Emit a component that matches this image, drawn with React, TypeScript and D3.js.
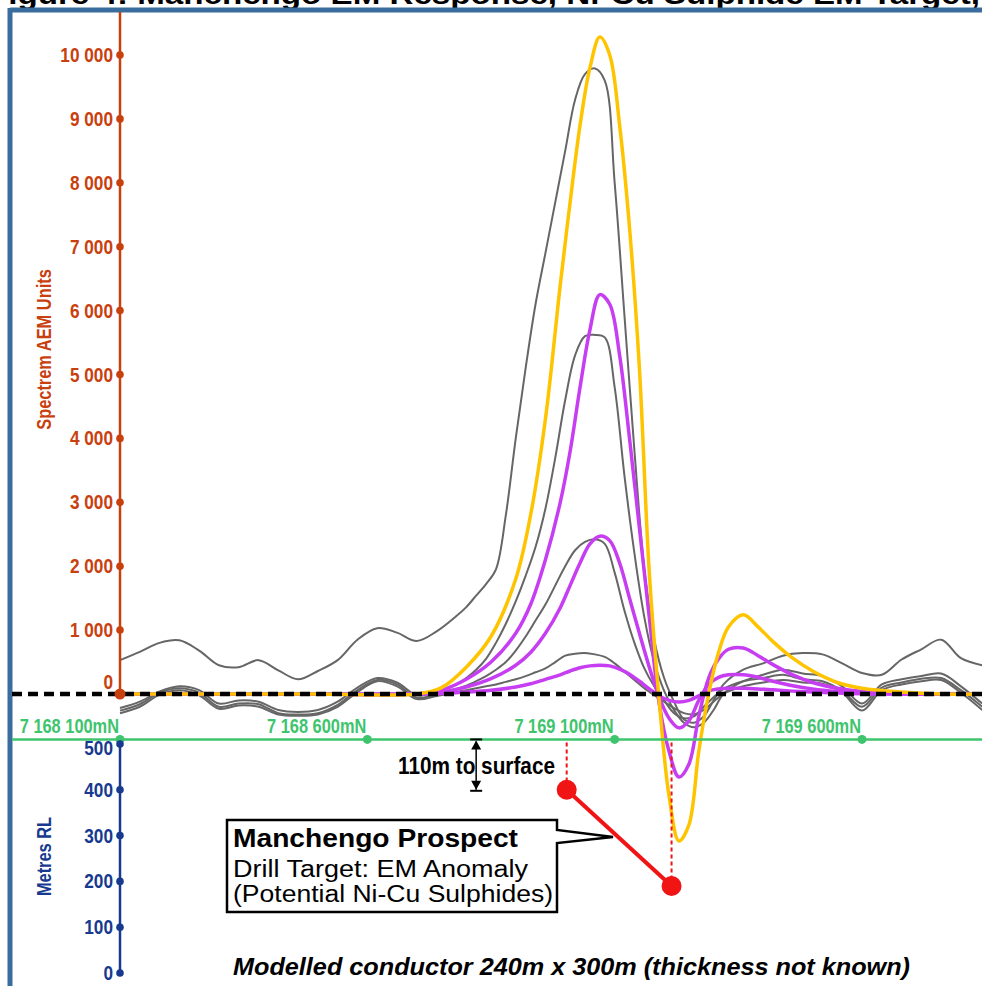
import React from 'react';
import * as d3 from 'd3';

const W = 982;
const H = 986;

// axis ticks
const aemTicks = [0, 1000, 2000, 3000, 4000, 5000, 6000, 7000, 8000, 9000, 10000];
const rlTicks = [0, 100, 200, 300, 400, 500];
const northingTicks = [7168100, 7168600, 7169100, 7169600];
const surfaceRL = 510;

// modelled response stations (northing, m)
const modelN = [7168100, 7168300, 7168500, 7168700, 7168750, 7168800, 7168850, 7168900, 7168930, 7168960,
  7168990, 7169010, 7169030, 7169050, 7169070, 7169090, 7169110, 7169130, 7169150, 7169170,
  7169190, 7169210, 7169230, 7169250, 7169270, 7169290, 7169310, 7169330, 7169360, 7169390,
  7169420, 7169460, 7169500, 7169550, 7169600, 7169680, 7169760, 7169843];
const modelYellow = [0, 0, 0, 0, 100, 420, 900, 1800, 2800, 4300, 6400, 7700, 8900, 9800, 10280, 10000, 8900, 7300, 5100, 1900,
  -100, -1600, -2300, -2050, -900, 0, 650, 1050, 1240, 1050, 820, 560, 360, 180, 90, 30, 0, 0];
const modelPurple1 = [0, 0, 0, 0, 60, 230, 500, 950, 1400, 2100, 3000, 3800, 4800, 5700, 6250, 6100, 5300, 4000, 2600, 1200,
  -150, -900, -1300, -1100, -350, 250, 550, 700, 720, 600, 460, 300, 180, 90, 40, 10, 0, 0];
const modelPurple2 = [0, 0, 0, 0, 30, 110, 240, 450, 650, 950, 1350, 1700, 2050, 2350, 2470, 2400, 2050, 1500, 950, 420,
  -50, -380, -530, -420, -100, 150, 260, 300, 300, 260, 200, 130, 80, 40, 15, 0, 0, 0];
const modelPurple3 = [0, 0, 0, 0, 8, 30, 60, 110, 160, 230, 300, 360, 410, 440, 450, 440, 390, 310, 200, 80,
  -30, -100, -125, -100, -30, 50, 80, 90, 90, 80, 65, 45, 30, 15, 5, 0, 0, 0];

// observed AEM channels (northing, m)
const obsN = [7168100, 7168140, 7168180, 7168220, 7168260, 7168300, 7168340, 7168380, 7168420, 7168460,
  7168500, 7168540, 7168580, 7168620, 7168660, 7168700, 7168740, 7168780,
  7168800, 7168820, 7168840, 7168860, 7168880, 7168900, 7168920, 7168940, 7168960, 7168980,
  7169000, 7169020, 7169040, 7169060, 7169080, 7169100, 7169120, 7169140, 7169160, 7169180,
  7169200, 7169220, 7169240, 7169260, 7169280, 7169300, 7169320,
  7169360, 7169400, 7169440, 7169480, 7169520, 7169560, 7169600, 7169640, 7169680, 7169720,
  7169760, 7169800, 7169843];
const obsCh1 = [530, 660, 800, 840, 680, 450, 420, 530, 370, 230, 360, 530, 850, 1030, 960, 830, 980, 1220,
  1360, 1540, 1720, 1950, 2800, 4000, 5100, 6100, 6900, 7700, 8500, 9300, 9700, 9790, 9600, 8000, 5900, 3800, 1950, 850,
  250, -120, -400, -450, -350, -100, 150,
  380, 480, 600, 640, 620, 480, 330, 300, 540, 700, 850, 560, 450];
const obsCh2 = [-220, -120, 40, 120, 60, -150, -100, -120, -250, -280, -250, -120, 100, 250, 180, -20, 30, 150,
  250, 380, 550, 800, 1100, 1450, 1850, 2300, 2900, 3700, 4600, 5300, 5600, 5620, 5580, 4800, 3400, 2200, 1200, 500,
  50, -250, -450, -520, -450, -250, 0,
  200, 300, 380, 320, 280, 120, -150, 150, 230, 280, 320, 120, -150];
const obsCh3 = [-260, -160, 20, 90, 20, -200, -150, -160, -300, -320, -300, -170, 60, 220, 150, -60, 0, 80,
  130, 200, 280, 380, 500, 680, 900, 1150, 1400, 1700, 2000, 2250, 2380, 2420, 2350, 1900, 1300, 800, 400, 120,
  -100, -300, -380, -350, -200, -50, 80,
  200, 250, 300, 230, 200, 50, -200, 100, 180, 240, 250, 60, -200];
const obsCh4 = [-300, -200, -10, 60, -20, -230, -180, -200, -320, -340, -320, -200, 30, 200, 120, -80, -30, 30,
  60, 90, 120, 150, 190, 230, 280, 340, 400, 500, 600, 630, 640, 620, 580, 480, 350, 220, 90, -20,
  -120, -220, -300, -320, -250, -120, 0,
  120, 180, 220, 180, 160, 20, -260, 60, 150, 200, 220, 20, -250];

// drill target (northing, RL)
const targetN = [7169003, 7169215];
const targetRL = [400, 190];

const sans = "'Liberation Sans', Arial, sans-serif";

const ORANGE = '#c9400f';
const BLUE = '#173a8f';
const GREEN = '#3ec46d';
const FRAME = '#3b6c9e';
const YELLOW = '#ffc400';
const PURPLE = '#c73ef2';
const GREY = '#666666';
const RED = '#f01414';

const fmt = d3.formatLocale({ decimal: '.', thousands: ' ', grouping: [3], currency: ['', ''] }).format(',');

// Arial Narrow look: bold sans squeezed horizontally
function Narrow({ x, y, anchor = 'start', size = 20, fill, rotate = false, children }: any) {
  return (
    <text transform={`translate(${x},${y})${rotate ? ' rotate(-90)' : ''} scale(0.82,1)`} textAnchor={anchor}
      fontFamily={sans} fontWeight="bold" fontSize={size} fill={fill}>{children}</text>
  );
}

export default function App() {
  const x = d3.scaleLinear().domain([7168100, 7169600]).range([120, 862]);
  const yA = d3.scaleLinear().domain([0, 10000]).range([694, 55]);
  const yR = d3.scaleLinear().domain([0, 500]).range([973, 744]);
  const surfY = yR(surfaceRL);
  const x0 = x(7168100);

  const line = (ns: number[]) =>
    d3.line<number>()
      .x((_, i) => x(ns[i]))
      .y((d) => yA(d))
      .curve(d3.curveCatmullRom.alpha(0.5));

  const obsLine = line(obsN);
  const modLine = line(modelN);

  const tx = targetN.map((n) => x(n));
  const ty = targetRL.map((r) => yR(r));
  const arrowX = x(7168820);

  return (
    <svg width={W} height={H} style={{ display: 'block', position: 'absolute', left: 0, top: 0, background: '#fff' }}>
      {/* title, cropped by the top edge as in the source figure */}
      <text x={-12} y={4} fontFamily={sans} fontWeight="bold" fontSize={28} fill="#000"
        textLength={992} lengthAdjust="spacingAndGlyphs">
        Figure 4: Manchengo EM Response, Ni-Cu Sulphide EM Target,
      </text>

      {/* frame */}
      <line x1={10} y1={10} x2={W} y2={10} stroke={FRAME} strokeWidth={5} />
      <line x1={10} y1={8} x2={10} y2={H} stroke={FRAME} strokeWidth={5} />

      {/* observed channels */}
      {[obsCh1, obsCh2, obsCh3, obsCh4].map((d, i) => (
        <path key={'g' + i} d={obsLine(d) || ''} fill="none" stroke={GREY} strokeWidth={2} />
      ))}

      {/* modelled responses */}
      {[modelPurple3, modelPurple2, modelPurple1].map((d, i) => (
        <path key={'p' + i} d={modLine(d) || ''} fill="none" stroke={PURPLE} strokeWidth={3.5} />
      ))}
      <path d={modLine(modelYellow) || ''} fill="none" stroke={YELLOW} strokeWidth={3.5} />

      {/* zero line */}
      <line x1={12} y1={yA(0)} x2={W} y2={yA(0)} stroke="#000" strokeWidth={4.5} strokeDasharray="10 6" />

      {/* AEM axis */}
      <line x1={x0} y1={12} x2={x0} y2={yA(0)} stroke={ORANGE} strokeWidth={2.5} />
      {aemTicks.map((t) => (
        <g key={'a' + t}>
          <circle cx={x0} cy={yA(t)} r={t === 0 ? 5.5 : 3.8} fill={ORANGE} />
          <Narrow x={x0 - 7} y={yA(t) + (t === 0 ? -5 : 7)} anchor="end" size={21} fill={ORANGE}>{fmt(t)}</Narrow>
        </g>
      ))}
      <Narrow x={51} y={yA(5000) - 25} anchor="middle" fill={ORANGE} rotate>Spectrem AEM Units</Narrow>

      {/* northing line */}
      <line x1={12} y1={surfY} x2={W} y2={surfY} stroke={GREEN} strokeWidth={2.5} />
      {northingTicks.map((n) => (
        <g key={'n' + n}>
          <circle cx={x(n)} cy={surfY} r={4.5} fill={GREEN} />
          <Narrow x={x(n) - 1} y={surfY - 6} anchor="end" fill={GREEN}>{fmt(n)}mN</Narrow>
        </g>
      ))}

      {/* RL axis */}
      <line x1={x0} y1={yR(500)} x2={x0} y2={yR(0)} stroke={BLUE} strokeWidth={2.5} />
      {rlTicks.map((t) => (
        <g key={'r' + t}>
          <circle cx={x0} cy={yR(t)} r={3.8} fill={BLUE} />
          <Narrow x={x0 - 7} y={yR(t) + 7 + (t === 500 ? 4 : 0)} anchor="end" size={21} fill={BLUE}>{t}</Narrow>
        </g>
      ))}
      <Narrow x={51} y={yR(250) - 2} anchor="middle" fill={BLUE} rotate>Metres RL</Narrow>

      {/* depth to surface annotation */}
      <line x1={arrowX} y1={surfY + 2} x2={arrowX} y2={ty[0]} stroke="#000" strokeWidth={1.5} />
      <line x1={arrowX - 6} y1={surfY} x2={arrowX + 6} y2={surfY} stroke="#000" strokeWidth={2} />
      <path d={`M${arrowX},${surfY + 1} l-5,9 l10,0 z`} fill="#000" />
      <line x1={arrowX - 6} y1={ty[0] + 1} x2={arrowX + 6} y2={ty[0] + 1} stroke="#000" strokeWidth={2} />
      <path d={`M${arrowX},${ty[0]} l-5,-9 l10,0 z`} fill="#000" />
      <text x={398} y={774} fontFamily={sans} fontWeight="bold" fontSize={23} fill="#000"
        textLength={157} lengthAdjust="spacingAndGlyphs">110m to surface</text>

      {/* drill target */}
      {tx.map((px, i) => (
        <line key={'d' + i} x1={px} y1={surfY + 3} x2={px} y2={ty[i]} stroke={RED} strokeWidth={2}
          strokeDasharray="4 3" />
      ))}
      <line x1={tx[0]} y1={ty[0]} x2={tx[1]} y2={ty[1]} stroke={RED} strokeWidth={4} />
      {tx.map((px, i) => (
        <circle key={'c' + i} cx={px} cy={ty[i]} r={10} fill={RED} />
      ))}

      {/* callout */}
      <path d="M227,820 H557 V830 L613,837 L557,843 V912 H227 Z" fill="#fff" stroke="#000" strokeWidth={2.5} />
      <text x={233} y={847} fontFamily={sans} fontWeight="bold" fontSize={26} fill="#000"
        textLength={285} lengthAdjust="spacingAndGlyphs">Manchengo Prospect</text>
      <text x={233} y={877} fontFamily={sans} fontSize={23} fill="#000"
        textLength={295} lengthAdjust="spacingAndGlyphs">Drill Target: EM Anomaly</text>
      <text x={233} y={902} fontFamily={sans} fontSize={23} fill="#000"
        textLength={320} lengthAdjust="spacingAndGlyphs">(Potential Ni-Cu Sulphides)</text>

      <text x={233} y={975} fontFamily={sans} fontWeight="bold" fontStyle="italic" fontSize={23} fill="#000"
        textLength={677} lengthAdjust="spacingAndGlyphs">Modelled conductor 240m x 300m (thickness not known)</text>
    </svg>
  );
}
